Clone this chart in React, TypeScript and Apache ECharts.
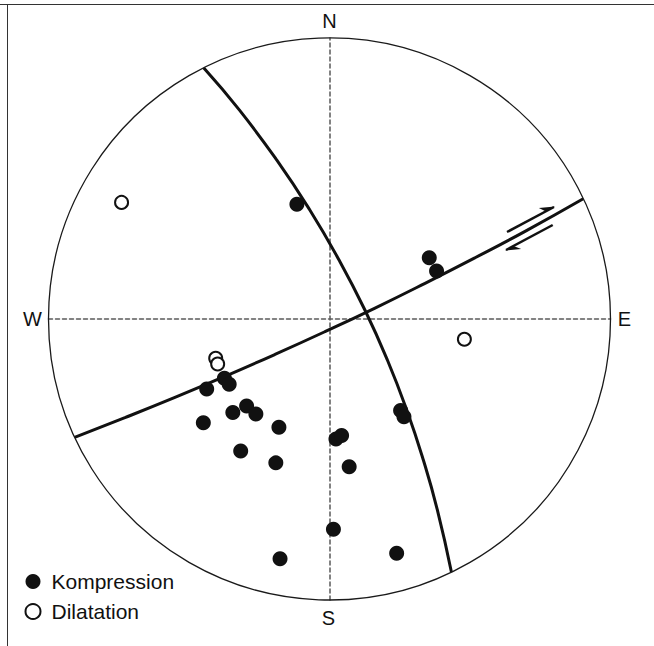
import React, { useEffect, useRef } from "react";
import * as echarts from "echarts";

// Projected positions on the unit circle (x to the east, y to the north)
const kompressionPoints: [number, number][] = [
  [-0.116, 0.408],
  [0.355, 0.218],
  [0.381, 0.171],
  [-0.437, -0.249],
  [-0.374, -0.211],
  [-0.357, -0.232],
  [-0.344, -0.333],
  [-0.295, -0.31],
  [-0.262, -0.338],
  [-0.449, -0.369],
  [-0.18, -0.385],
  [-0.316, -0.47],
  [-0.191, -0.512],
  [0.023, -0.427],
  [0.043, -0.415],
  [0.07, -0.526],
  [0.014, -0.748],
  [-0.176, -0.853],
  [0.239, -0.834],
  [0.253, -0.326],
  [0.265, -0.348],
];

const dilatationPoints: [number, number][] = [
  [-0.74, 0.415],
  [-0.405, -0.14],
  [-0.398, -0.16],
  [0.48, -0.072],
];

// Nodal planes
const plane1: [number, number][] = [
  [-0.448, 0.894],
  [-0.321, 0.744],
  [-0.188, 0.566],
  [-0.07, 0.388],
  [0.034, 0.21],
  [0.126, 0.032],
  [0.206, -0.146],
  [0.275, -0.324],
  [0.334, -0.502],
  [0.384, -0.68],
  [0.434, -0.901],
];

const plane2: [number, number][] = [
  [-0.907, -0.421],
  [-0.728, -0.351],
  [-0.55, -0.279],
  [-0.372, -0.204],
  [-0.194, -0.126],
  [-0.016, -0.045],
  [0.162, 0.039],
  [0.34, 0.127],
  [0.518, 0.218],
  [0.696, 0.312],
  [0.903, 0.428],
];

const directionLabels = ["N", "E", "S", "W"];
const legendNames = ["Kompression", "Dilatation"];

const CX = 329.5;
const CY = 319;
const R = 281;
const FONT = '"Liberation Sans", Arial, Helvetica, sans-serif';

export default function App() {
  const ref = useRef<HTMLDivElement>(null);

  useEffect(() => {
    const chart = echarts.init(ref.current!, null, { renderer: "svg" });

    const labelPos: Record<string, [number, number]> = {
      N: [CX, CY - R - 17],
      E: [CX + R + 14, CY],
      S: [CX - 1, CY + R + 18],
      W: [CX - R - 16, CY],
    };

    const textEls = directionLabels.map((t) => ({
      type: "text",
      x: labelPos[t][0],
      y: labelPos[t][1],
      style: {
        text: t,
        font: `20px ${FONT}`,
        fill: "#111",
        align: "center",
        verticalAlign: "middle",
        textAlign: "center",
        textVerticalAlign: "middle",
      },
      z: 10,
    }));

    const option = {
      animation: false,
      backgroundColor: "#fff",
      grid: { left: CX - R, top: CY - R, width: 2 * R, height: 2 * R, containLabel: false },
      xAxis: {
        type: "value",
        min: -1,
        max: 1,
        axisLine: { show: true, onZero: true, lineStyle: { color: "#5a5a5a", type: [4, 3], width: 1.5 } },
        axisTick: { show: false },
        axisLabel: { show: false },
        splitLine: { show: false },
      },
      yAxis: {
        type: "value",
        min: -1,
        max: 1,
        axisLine: { show: true, onZero: true, lineStyle: { color: "#5a5a5a", type: [4, 3], width: 1.5 } },
        axisTick: { show: false },
        axisLabel: { show: false },
        splitLine: { show: false },
      },
      legend: {
        data: legendNames,
        orient: "vertical",
        left: 19.5,
        top: 566,
        itemWidth: 15,
        itemHeight: 15,
        itemGap: 9,
        icon: "circle",
        textStyle: { fontSize: 21, fontFamily: FONT, color: "#111", padding: [0, 0, 0, 6] },
      },
      graphic: [
        { type: "line", shape: { x1: 0, y1: 4.5, x2: 654, y2: 4.5 }, style: { stroke: "#333", lineWidth: 1 } },
        { type: "line", shape: { x1: 7.5, y1: 4.5, x2: 7.5, y2: 646 }, style: { stroke: "#333", lineWidth: 1 } },
        {
          type: "circle",
          shape: { cx: CX, cy: CY, r: R },
          style: { fill: "none", stroke: "#1a1a1a", lineWidth: 1.3 },
          z: 5,
        },
        ...textEls,
        { type: "line", shape: { x1: 507, y1: 232, x2: 554, y2: 207 }, style: { stroke: "#111", lineWidth: 2.5 }, z: 10 },
        { type: "polygon", shape: { points: [[555, 206.5], [538.8, 208], [546, 211.5]] }, style: { fill: "#111" }, z: 10 },
        { type: "line", shape: { x1: 506, y1: 250, x2: 552.7, y2: 225 }, style: { stroke: "#111", lineWidth: 2.5 }, z: 10 },
        { type: "polygon", shape: { points: [[505, 250.5], [521.2, 249], [513.5, 246]] }, style: { fill: "#111" }, z: 10 },
      ],
      series: [
        {
          name: "plane1",
          type: "line",
          data: plane1,
          smooth: true,
          showSymbol: false,
          silent: true,
          lineStyle: { color: "#111", width: 3 },
          z: 3,
        },
        {
          name: "plane2",
          type: "line",
          data: plane2,
          smooth: true,
          showSymbol: false,
          silent: true,
          lineStyle: { color: "#111", width: 3 },
          z: 3,
        },
        {
          name: "Kompression",
          type: "scatter",
          data: kompressionPoints,
          symbol: "circle",
          symbolSize: 15,
          itemStyle: { color: "#111", opacity: 1 },
          z: 6,
        },
        {
          name: "Dilatation",
          type: "scatter",
          data: dilatationPoints,
          symbol: "circle",
          symbolSize: 13,
          itemStyle: { color: "#fff", borderColor: "#111", borderWidth: 2, opacity: 1 },
          z: 6,
        },
      ],
    };

    chart.setOption(option as any);
    return () => chart.dispose();
  }, []);

  return (
    <div
      ref={ref}
      style={{ position: "fixed", left: 0, top: 0, width: 654, height: 646, background: "#fff" }}
    />
  );
}
